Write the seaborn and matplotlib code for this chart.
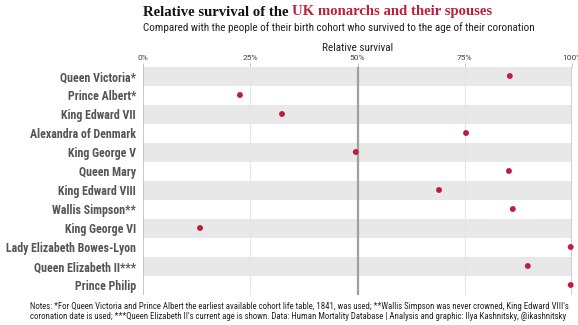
import matplotlib
matplotlib.use("Agg")
import matplotlib.pyplot as plt
import seaborn as sns
import pandas as pd

names = ["Queen Victoria*", "Prince Albert*", "King Edward VII", "Alexandra of Denmark",
         "King George V", "Queen Mary", "King Edward VIII", "Wallis Simpson**",
         "King George VI", "Lady Elizabeth Bowes-Lyon", "Queen Elizabeth II***", "Prince Philip"]
survival = [0.855, 0.226, 0.324, 0.753, 0.496, 0.853, 0.690, 0.862, 0.133, 0.997, 0.897, 0.997]
tick_vals = [0, 0.25, 0.5, 0.75, 1.0]
tick_labels = ["0%", "25%", "50%", "75%", "100%"]

df = pd.DataFrame({"name": names, "survival": survival})

sns.set_theme(style="white")
plt.rcParams["font.family"] = ["Roboto Condensed", "Roboto", "DejaVu Sans"]

RED = "#BE1E3C"
fig = plt.figure(figsize=(5.78, 3.25), dpi=100)
ax = fig.add_axes([143/578, 1-294.5/325, 429/578, 228/325])

# alternating bands
for i in range(len(names)):
    if i % 2 == 0:
        ax.axhspan(i - 0.5, i + 0.5, color="#E8E8E8", lw=0, zorder=0)
for v in [0.25, 0.75]:
    ax.axvline(v, color="#E6E6E6", lw=0.8, zorder=1)
ax.axvline(0.5, color="#A0A0A0", lw=1.6, zorder=1)
ax.axvline(0, color="#BDBDBD", lw=1.2, zorder=1)
ax.axvline(1.0, color="#C8C8C8", lw=1.2, zorder=1)

sns.scatterplot(data=df, x="survival", y="name", ax=ax, color=RED, s=18,
                edgecolor="none", zorder=3, clip_on=False)

ax.set_xlim(0, 1)
ax.set_ylim(len(names) - 0.5, -0.5)
for s in ax.spines.values():
    s.set_visible(False)
ax.xaxis.tick_top()
ax.xaxis.set_label_position("top")
ax.set_xticks(tick_vals)
ax.set_xticklabels(tick_labels, fontsize=6, color="#444444", family=["Roboto", "DejaVu Sans"])
ax.tick_params(axis="x", length=3, width=0.6, color="#BBBBBB", pad=1, top=True)
ax.set_xlabel("Relative survival", fontsize=8, color="#222222", labelpad=3)
ax.set_ylabel("")
ax.tick_params(axis="y", length=0, pad=5)
for lab in ax.get_yticklabels():
    lab.set_fontsize(8.6)
    lab.set_fontweight("bold")
    lab.set_color("#555555")

# title in two colours, fitted to the reference width
fig.canvas.draw()
r = fig.canvas.get_renderer()
TF = ["Liberation Serif", "DejaVu Serif"]
W = fig.bbox.width
x0 = 143 / 578
target = (492 - 143)
size = 11.0
for _ in range(3):
    t1 = fig.text(x0, 1-12/325, "Relative survival of the ", fontsize=size, fontweight="bold",
                  family=TF, color="#111111", va="center", ha="left")
    bb = t1.get_window_extent(renderer=r)
    t2 = fig.text(bb.x1/W, 1-12/325, "UK monarchs and their spouses", fontsize=size,
                  fontweight="bold", family=TF, color=RED, va="center", ha="left")
    bb2 = t2.get_window_extent(renderer=r)
    width = bb2.x1 - bb.x0
    if abs(width - target) < 2:
        break
    t1.remove(); t2.remove()
    size = size * target / width

fig.text(143/578, 1-28/325, "Compared with the people of their birth cohort who survived to the age of their coronation",
         fontsize=8, color="#222222", va="center", ha="left")
fig.text(30/578, 1-302/325,
         "Notes: *For Queen Victoria and Prince Albert the earliest available cohort life table, 1841, was used; **Wallis Simpson was never crowned, King Edward VIII's\n"
         "coronation date is used; ***Queen Elizabeth II's current age is shown. Data: Human Mortality Database | Analysis and graphic: Ilya Kashnitsky, @ikashnitsky",
         fontsize=6.3, color="#222222", va="top", ha="left", linespacing=1.2)

fig.savefig("out.png", dpi=100)
